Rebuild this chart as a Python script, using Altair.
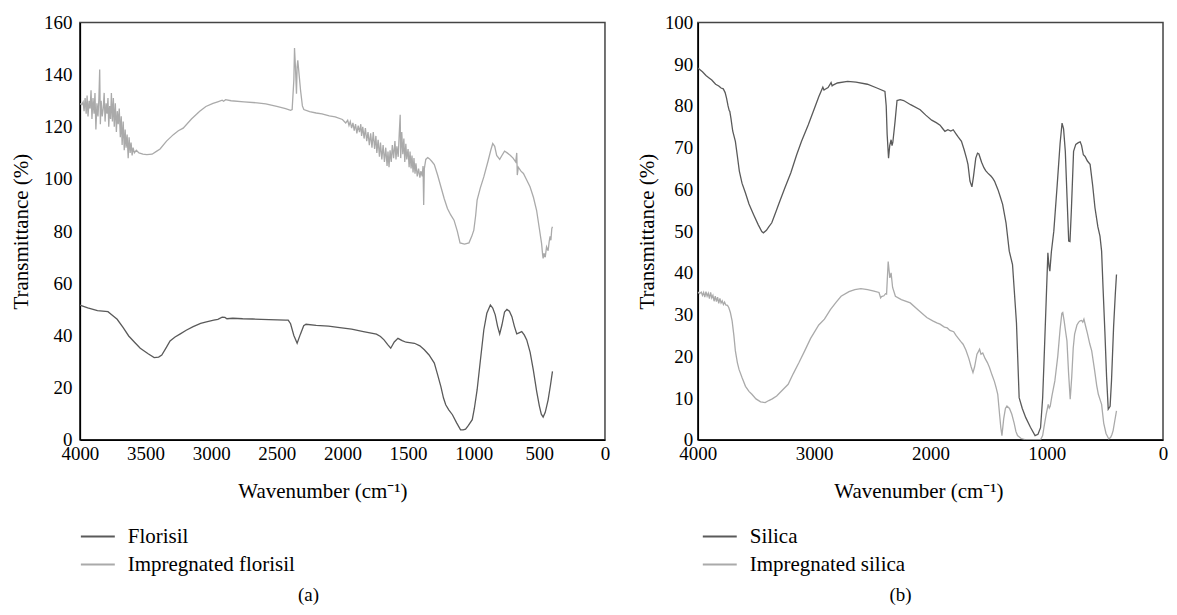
import altair as alt
import pandas as pd

FONT = "Liberation Serif"

# ---------------- Panel (a): Florisil ----------------
flo_wn = [4000, 3940, 3866, 3786, 3760, 3716, 3670, 3628, 3580, 3540, 3480, 3434, 3400, 3376, 3340, 3313,
          3275, 3238, 3190, 3137, 3080, 3036, 2980, 2949, 2916, 2895, 2880, 2835, 2760, 2684, 2560, 2433,
          2413, 2395, 2370, 2345, 2320, 2295, 2277, 2200, 2106, 2020, 1930, 1840, 1741, 1710, 1683, 1655,
          1632, 1605, 1577, 1545, 1515, 1451, 1410, 1376, 1340, 1300, 1275, 1250, 1230, 1213, 1190, 1162,
          1130, 1100, 1080, 1062, 1040, 1011, 995, 974, 950, 923, 900, 873, 855, 836, 818, 802, 785, 765,
          747, 728, 709, 690, 672, 655, 634, 615, 596, 570, 546, 520, 500, 485, 471, 455, 433, 415, 400]
flo_t = [51.6, 50.6, 49.5, 49.1, 48.0, 46.2, 43.0, 39.8, 37.2, 35.1, 33.0, 31.5, 31.7, 32.5, 35.5, 37.9,
         39.4, 40.5, 42.0, 43.4, 44.6, 45.2, 45.9, 46.2, 47.0, 46.9, 46.4, 46.6, 46.4, 46.3, 46.1, 45.9,
         45.9, 44.5, 40.0, 37.0, 40.5, 43.7, 44.3, 43.9, 43.6, 43.0, 42.4, 41.5, 40.5, 39.6, 38.3, 36.5,
         35.1, 37.5, 38.9, 38.0, 37.4, 37.0, 36.0, 34.5, 32.5, 29.4, 25.0, 20.4, 16.0, 13.4, 11.5, 9.6,
         6.5, 3.8, 3.8, 4.1, 5.5, 7.7, 12.0, 19.1, 30.0, 42.1, 48.5, 51.7, 50.5, 47.9, 43.5, 40.6, 44.0, 49.0,
         50.0, 49.3, 47.2, 43.5, 40.6, 41.0, 41.5, 40.2, 38.3, 33.5, 26.8, 18.5, 13.0, 9.8, 8.7, 10.5, 15.3, 21.0, 26.2]

impflo_wn = [4000, 3985, 3975, 3968, 3960, 3952, 3945, 3938, 3930, 3922, 3915, 3908, 3900, 3892, 3885, 3878,
             3870, 3862, 3855, 3849, 3844, 3838, 3830, 3822, 3815, 3808, 3800, 3793, 3786, 3780, 3773, 3766,
             3760, 3752, 3745, 3738, 3730, 3722, 3715, 3708, 3700, 3692, 3685, 3678, 3670, 3662, 3655, 3648,
             3640, 3632, 3625, 3617, 3610, 3602, 3595, 3585, 3570, 3550, 3520, 3490, 3450, 3420, 3389, 3340,
             3288, 3250, 3213, 3150, 3087, 3040, 2986, 2950, 2916, 2905, 2890, 2848, 2750, 2650, 2584, 2500,
             2433, 2395, 2383, 2370, 2365, 2358, 2350, 2345, 2340, 2330, 2319, 2305, 2294, 2250, 2200, 2156,
             2100, 2055, 2000, 1975, 1960, 1950, 1940, 1930, 1920, 1910, 1900, 1890, 1880, 1870, 1860, 1854,
             1845, 1835, 1825, 1815, 1805, 1795, 1785, 1775, 1765, 1755, 1745, 1738, 1728, 1718, 1710, 1700,
             1690, 1680, 1670, 1660, 1653, 1645, 1637, 1628, 1620, 1610, 1600, 1592, 1585, 1575, 1568, 1560,
             1556, 1548, 1540, 1532, 1525, 1517, 1510, 1500, 1492, 1485, 1477, 1470, 1462, 1455, 1447, 1440,
             1430, 1420, 1410, 1402, 1392, 1386, 1381, 1376, 1365, 1350, 1338, 1320, 1300, 1275, 1250, 1225,
             1200, 1175, 1150, 1125, 1104, 1070, 1036, 1015, 999, 985, 974, 950, 923, 890, 870, 855, 840, 825,
             802, 785, 765, 745, 722, 700, 680, 672, 668, 660, 640, 621, 600, 571, 545, 521, 500, 483, 475,
             471, 465, 455, 445, 433, 425, 418, 412, 405, 400]
impflo_t = [128.9, 128.5, 129.5, 126, 131, 125, 132, 124, 130, 127, 134, 123, 131, 125, 133, 119,
            129, 124, 131, 142, 121, 130, 124, 127, 133, 122, 129, 125, 131, 120, 128, 123,
            133, 122, 131, 120, 129, 118, 126, 121, 127, 116, 124, 113, 122, 111, 119, 112,
            117, 108, 116, 110, 114, 109, 112, 110, 111, 110, 109.5, 109.3, 109.5, 110.5, 111.5, 114.5,
            117, 118.5, 119.5, 123, 126, 127.8, 129, 129.6, 130.2, 129.8, 130.4, 130, 129.6, 129.2, 128.8, 127.8,
            127, 126.3, 126.6, 138, 150.2, 143, 132.7, 143, 145.5, 140, 134, 128, 126.6, 125.8, 125.3, 125,
            124.2, 123.8, 122.8, 121.5, 122.5, 120.5, 122, 119.5, 121.5, 118.5, 121, 117.5, 120.5, 118, 121, 116.5,
            120, 115.5, 119.5, 114.5, 118, 113, 117.5, 112, 118, 111.5, 116.5, 110, 115, 108.5, 114, 107.5,
            113, 106.5, 112, 105, 110.5, 104.5, 111, 106.5, 113, 108, 114.5, 107.5, 112.5, 108.5, 116.5, 124.6,
            108, 118, 109.5, 115.5, 106.5, 113.5, 107.5, 111.5, 104.5, 110.5, 104, 109, 102.5, 108, 102, 106,
            101, 104, 100.5, 103, 101, 105, 90, 104, 107.5, 108.2, 107.8, 106.8, 105.5, 101.5, 97, 92.5,
            88.7, 86.2, 84.2, 80, 75.5, 75, 75.5, 78, 80.4, 86, 91.9, 96.5, 100.8, 107, 111, 113.6, 112.5, 109,
            107.5, 109, 110.7, 110, 109.1, 108, 106.5, 110, 101.5, 104.5, 103, 102.1, 100, 97, 93, 88, 81, 75.3, 71,
            69.5, 71.5, 70, 74, 72.5, 76, 78, 76.5, 81, 81.7]

# ---------------- Panel (b): Silica ----------------
sil_wn = [4000, 3960, 3930, 3903, 3880, 3847, 3820, 3800, 3781, 3765, 3753, 3740, 3730, 3725, 3715, 3700,
          3677, 3660, 3643, 3620, 3591, 3560, 3521, 3480, 3450, 3436, 3410, 3390, 3364, 3330, 3300, 3251,
          3200, 3150, 3109, 3050, 2996, 2960, 2925, 2915, 2905, 2880, 2854, 2845, 2837, 2800, 2712, 2640,
          2542, 2460, 2391, 2380, 2372, 2360, 2350, 2338, 2330, 2323, 2305, 2287, 2260, 2230, 2170, 2088,
          2040, 1989, 1950, 1917, 1895, 1875, 1850, 1825, 1804, 1780, 1760, 1733, 1710, 1690, 1677, 1660,
          1643, 1630, 1610, 1595, 1583, 1560, 1540, 1525, 1506, 1480, 1465, 1449, 1420, 1400, 1379, 1350,
          1322, 1294, 1260, 1237, 1210, 1180, 1140, 1100, 1075, 1053, 1035, 1024, 1005, 990, 980, 973, 960,
          939, 910, 885, 868, 855, 840, 825, 811, 800, 788, 769, 750, 728, 712, 700, 685, 670, 650, 627, 605,
          585, 560, 542, 528, 515, 500, 485, 471, 455, 443, 425, 410, 400]
sil_t = [89.1, 88.2, 87.3, 86.7, 86.2, 85.2, 84.8, 84.3, 84.1, 83.2, 81.9, 80.0, 78.9, 78.7, 77.0, 74.0,
         71.5, 68.0, 64.4, 61.5, 59.2, 56.5, 54.0, 51.5, 49.9, 49.6, 50.2, 51.0, 52.0, 54.5, 56.8, 60.4,
         64.0, 68.3, 71.5, 75.5, 79.5, 82.2, 84.5, 83.8, 84.0, 84.4, 85.6, 84.8, 85.0, 85.5, 85.9, 85.7,
         85.2, 84.3, 83.5, 80.0, 73.2, 67.5, 70.5, 71.9, 70.5, 71.3, 76.0, 81.3, 81.5, 81.3, 80.3, 79.1,
         77.8, 76.6, 76.0, 75.4, 74.6, 73.9, 74.3, 74.0, 74.3, 73.3, 72.5, 71.5, 69.5, 67.5, 66.0, 62.0,
         60.6, 63.0, 67.5, 68.7, 68.5, 66.5, 65.2, 64.5, 63.9, 63.2, 62.7, 62.0, 60.0, 58.3, 56.4, 52.0,
         45.2, 42.0, 28.0, 10.1, 7.5, 5.3, 3.0, 1.0, 1.3, 2.9, 10.0, 18.1, 33.0, 44.8, 41.5, 40.4, 45.0,
         50.0, 61.0, 71.0, 75.9, 74.5, 69.1, 58.0, 47.6, 47.5, 55.0, 69.1, 70.8, 71.2, 71.4, 70.5, 68.3, 67.9, 66.8, 66.0, 61.0,
         55.6, 51.0, 48.8, 45.2, 36.0, 26.0, 15.0, 7.3, 8.0, 14.1, 27.0, 35.0, 39.6]

impsil_wn = [4000, 3985, 3970, 3960, 3950, 3940, 3930, 3920, 3910, 3900, 3890, 3880, 3870, 3860, 3850, 3840,
             3830, 3820, 3810, 3800, 3790, 3780, 3770, 3760, 3745, 3734, 3720, 3705, 3690, 3677, 3660, 3645,
             3620, 3590, 3560, 3535, 3500, 3460, 3421, 3390, 3360, 3322, 3280, 3223, 3180, 3130, 3081, 3030,
             2960, 2911, 2860, 2810, 2768, 2700, 2650, 2598, 2540, 2485, 2442, 2428, 2420, 2400, 2386, 2377,
             2363, 2355, 2349, 2338, 2325, 2301, 2250, 2173, 2100, 2031, 1980, 1945, 1917, 1880, 1855, 1832,
             1800, 1780, 1760, 1740, 1719, 1695, 1670, 1650, 1634, 1620, 1600, 1590, 1577, 1565, 1550, 1530,
             1510, 1492, 1470, 1450, 1435, 1421, 1405, 1395, 1385, 1370, 1355, 1342, 1320, 1300, 1280, 1265,
             1251, 1220, 1180, 1120, 1053, 1035, 1024, 1005, 987, 978, 970, 955, 930, 905, 885, 870, 862, 850,
             838, 826, 812, 798, 785, 772, 760, 740, 725, 712, 700, 690, 680, 668, 650, 630, 613, 590, 570, 556,
             540, 528, 510, 490, 466, 450, 440, 429, 415, 400]
impsil_t = [35.4, 35.0, 35.4, 34.6, 35.3, 34.2, 35.5, 34.4, 35.1, 33.8, 35.3, 34.0, 34.6, 33.2, 34.4, 33.1,
            34.2, 32.7, 33.9, 32.8, 33.3, 32.4, 33.0, 32.3, 32.2, 31.7, 30.5, 28.5, 25.0, 21.3, 18.5, 16.8,
            14.9, 12.8, 11.6, 10.9, 9.8, 9.1, 8.9, 9.4, 9.8, 10.5, 11.7, 13.3, 15.8, 18.5, 21.3, 24.3,
            27.5, 28.9, 31.2, 33.0, 34.4, 35.5, 36.0, 36.2, 36.0, 35.6, 35.3, 34.0, 34.3, 34.5, 35.0, 34.9,
            42.7, 40.5, 38.8, 40.0, 36.5, 34.4, 33.6, 32.8, 31.0, 29.3, 28.5, 28.0, 27.7, 27.0, 26.8, 26.2,
            25.9, 25.0, 24.3, 23.6, 22.9, 21.5, 19.5, 17.5, 16.1, 17.5, 20.5, 21.0, 21.7, 20.5, 20.8, 19.5,
            18.5, 17.3, 15.5, 14.0, 12.5, 10.9, 6.0, 3.0, 1.0, 5.0, 7.5, 8.1, 7.5, 6.1, 4.0, 2.0,
            1.0, 0.3, 0.0, 0.0, 0.0, 1.0, 2.9, 6.0, 8.5, 7.6, 8.0, 10.5, 14.1, 20.0, 26.5, 30.3, 30.5, 28.5,
            26.0, 23.7, 16.0, 9.7, 15.0, 22.0, 25.3, 27.5, 28.2, 28.5, 28.6, 28.2, 28.9, 27.5, 25.5, 23.0, 21.3, 17.0, 13.0, 10.9,
            9.5, 8.5, 4.0, 1.5, 0.2, 0.6, 1.2, 2.2, 4.5, 6.9]


def make_df(parts):
    frames = []
    for name, wn, t in parts:
        frames.append(pd.DataFrame({"wn": wn, "t": t, "series": name, "ord": list(range(len(wn)))}))
    return pd.concat(frames, ignore_index=True)


def panel(df, names, width, ymax, ystep, xstep, title_x, legend_x, caption, caption_x,
          y_label_pad, y_title_pad):
    lines = alt.Chart(df).mark_line(strokeWidth=1.3, clip=True).encode(
        x=alt.X("wn:Q",
                scale=alt.Scale(domain=[4000, 0], nice=False, zero=False),
                axis=alt.Axis(values=list(range(4000, -1, -xstep)), format="d",
                              title="Wavenumber (cm⁻¹)", titleX=title_x, titleAlign="center",
                              titlePadding=17, labelPadding=5)),
        y=alt.Y("t:Q",
                scale=alt.Scale(domain=[0, ymax], nice=False),
                axis=alt.Axis(values=list(range(0, ymax + 1, ystep)), format="d",
                              title="Transmittance (%)", titlePadding=y_title_pad,
                              labelPadding=y_label_pad)),
        color=alt.Color("series:N",
                        scale=alt.Scale(domain=names, range=["#5a5a5a", "#aaaaaa"]),
                        legend=alt.Legend(orient="none", legendX=legend_x, legendY=497, title=None,
                                          symbolType="stroke", symbolSize=1156, symbolStrokeWidth=2,
                                          labelFont=FONT, labelFontSize=21, labelColor="black",
                                          labelLimit=400, labelOffset=12, rowPadding=-3.5, padding=0)),
        order=alt.Order("ord:Q"),
    )
    cap = alt.Chart(pd.DataFrame({"c": [caption]})).mark_text(
        font=FONT, fontSize=19, align="center", baseline="middle", color="black"
    ).encode(text="c:N", x=alt.value(caption_x), y=alt.value(574))
    return alt.layer(lines, cap).properties(width=width, height=418)


df_a = make_df([("Florisil", flo_wn, flo_t), ("Impregnated florisil", impflo_wn, impflo_t)])
df_b = make_df([("Silica", sil_wn, sil_t), ("Impregnated silica", impsil_wn, impsil_t)])

left = panel(df_a, ["Florisil", "Impregnated florisil"], 526, 160, 20, 500, 243, 0, "(a)", 229, 8, 12)
right = panel(df_b, ["Silica", "Impregnated silica"], 466, 100, 10, 1000, 221, 4, "(b)", 203, 5, 7)

chart = alt.hconcat(left, right, spacing=24).resolve_scale(
    color="independent", x="independent", y="independent"
).properties(
    padding={"left": 1, "top": 4, "right": 0, "bottom": 0}
).configure_axis(
    labelFont=FONT, labelFontSize=19, labelColor="black",
    labelFlush=False, labelOverlap=False,
    titleFont=FONT, titleFontSize=21, titleFontWeight="normal", titleColor="black",
    ticks=False, grid=False, domainColor="black", domainWidth=1.5,
).configure_view(stroke="#444444", strokeWidth=1.5)

chart.save("out.html", embed_options={"renderer": "svg", "actions": False})
